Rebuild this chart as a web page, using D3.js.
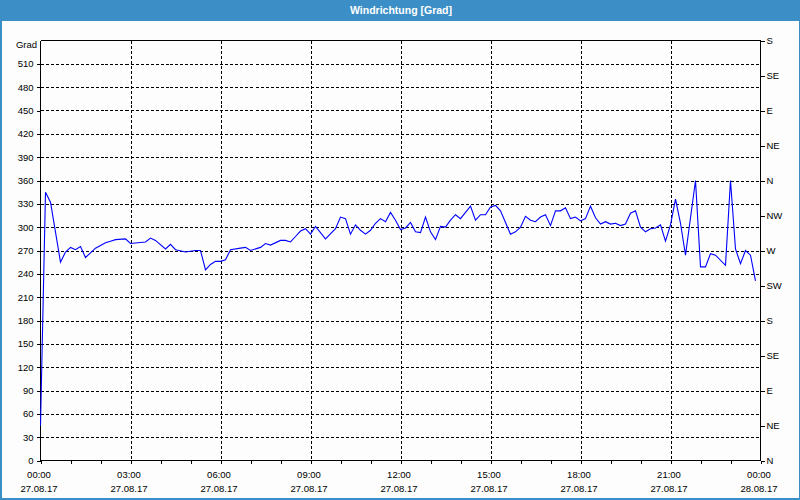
<!DOCTYPE html>
<html><head><meta charset="utf-8">
<script src="https://cdn.jsdelivr.net/npm/d3@7"></script>
<style>
html,body{margin:0;padding:0;background:#fcfdfc;}
svg{display:block;font-family:"Liberation Sans",Arial,sans-serif;}
</style></head>
<body>
<svg id="c" width="800" height="500"></svg>
<script>
const chartTitle = "Windrichtung [Grad]";
const yUnit = "Grad";
const times = ["00:00","00:10","00:20","00:40","00:50","01:00","01:10","01:20","01:30","01:50","02:10","02:20","02:30","02:50","03:00",
"03:30","03:40","03:50","04:10","04:20","04:30","04:50","05:10","05:20","05:30","05:40","05:50","06:00","06:10","06:20",
"06:40","06:50","07:00","07:20","07:30","07:40","08:00","08:10","08:20","08:30","08:40","08:50","09:00","09:10","09:30",
"09:50","10:00","10:10","10:20","10:30","10:40","10:50","11:00","11:10","11:20","11:30","11:40","11:50","12:00","12:10",
"12:20","12:30","12:40","12:50","13:00","13:10","13:20","13:30","13:40","13:50","14:00","14:20","14:30","14:40","14:50",
"15:00","15:10","15:20","15:40","15:50","16:00","16:10","16:20","16:30","16:40","16:50","17:00","17:10","17:20","17:30",
"17:40","17:50","18:00","18:10","18:20","18:30","18:40","18:50","19:00","19:10","19:20","19:30","19:40","19:50","20:00",
"20:10","20:20","20:30","20:40","20:50","21:00","21:10","21:20","21:30","21:50","22:00","22:10","22:20","22:30","22:50",
"23:00","23:10","23:20","23:30","23:40","23:50"];
const values = [45,345,332,255,268,274,271,275,261,273,280,282,284,285,279,
281,286,283,272,278,271,268,270,270,245,252,256,256,258,271,
273,274,270,274,279,277,283,283,281,288,295,298,291,301,285,
298,313,311,291,303,296,291,296,305,311,307,319,309,297,299,
306,294,293,313,294,284,301,300,309,316,311,327,309,316,316,
326,328,321,291,294,300,314,309,307,313,316,302,321,321,325,
311,313,308,311,327,312,304,307,304,305,302,304,318,321,300,
294,298,299,303,282,303,336,305,264,360,249,249,266,264,251,
360,272,253,270,264,231];
const yTicks = [0,30,60,90,120,150,180,210,240,270,300,330,360,390,420,450,480,510];
const dirTicks = [0,45,90,135,180,225,270,315,360,405,450,495,540];
const dirLabels = ["N","NE","E","SE","S","SW","W","NW","N","NE","E","SE","S"];
const xTickTimes = ["2017-08-27 00:00","2017-08-27 03:00","2017-08-27 06:00","2017-08-27 09:00","2017-08-27 12:00","2017-08-27 15:00","2017-08-27 18:00","2017-08-27 21:00","2017-08-28 00:00"];

const parse = d3.timeParse("%Y-%m-%d %H:%M");
const data = times.map((t,i)=>({t:parse("2017-08-27 "+t), v:values[i]}));
const t0 = parse(xTickTimes[0]), t1 = parse(xTickTimes[xTickTimes.length-1]);

const svg = d3.select("#c");
const W=800,H=500;
const L=40.5,R=760.5,T=40.5,B=460.5;
const x = d3.scaleTime().domain([t0,t1]).range([L,R]);
const y = d3.scaleLinear().domain([0,540]).range([B,T]);

// frame background and title bar
svg.append("rect").attr("x",0).attr("y",0).attr("width",W).attr("height",H).attr("fill","#3c8fc6");
svg.append("rect").attr("x",2).attr("y",21).attr("width",W-3).attr("height",H-23).attr("fill","#fcfdfc");
svg.append("text").attr("x",401).attr("y",14).attr("text-anchor","middle")
  .attr("fill","#ffffff").attr("font-weight","bold").attr("font-size","10.5px").text(chartTitle);

// grid
const g = svg.append("g");
g.selectAll(".hg").data(yTicks.filter(v=>v>0)).enter().append("line")
  .attr("x1",L).attr("x2",R).attr("y1",d=>Math.round(y(d))+0.5).attr("y2",d=>Math.round(y(d))+0.5)
  .attr("stroke","#000").attr("stroke-width",1).attr("stroke-dasharray","3,2").attr("shape-rendering","crispEdges");
const xt = xTickTimes.map(parse);
g.selectAll(".vg").data(xt.slice(1,-1)).enter().append("line")
  .attr("y1",T).attr("y2",B).attr("x1",d=>Math.round(x(d))+0.5).attr("x2",d=>Math.round(x(d))+0.5)
  .attr("stroke","#000").attr("stroke-width",1).attr("stroke-dasharray","3,2").attr("shape-rendering","crispEdges");

// top border
svg.append("line").attr("x1",L).attr("x2",R).attr("y1",T).attr("y2",T).attr("stroke","#000").attr("shape-rendering","crispEdges");

// left axis
const yAxis = d3.axisLeft(y).tickValues(yTicks).tickSize(4).tickFormat(d3.format("d"));
const ya = svg.append("g").attr("transform",`translate(${L},0)`).call(yAxis);
ya.select(".domain").attr("d",`M0,${T}V${B}`);
ya.selectAll("text").attr("font-size","9.5px").attr("fill","#000").attr("x",-7).attr("font-family","Liberation Sans, Arial, sans-serif");
ya.selectAll("line,path").attr("shape-rendering","crispEdges");
svg.append("text").attr("x",37).attr("y",y(540)+7).attr("text-anchor","end").attr("font-size","9.5px").attr("fill","#000").text(yUnit);

// right axis
const rAxis = d3.axisRight(y).tickValues(dirTicks).tickSize(4).tickFormat((d,i)=>dirLabels[i]);
const ra = svg.append("g").attr("transform",`translate(${R},0)`).call(rAxis);
ra.select(".domain").attr("d",`M0,${T}V${B}`);
ra.selectAll("text").attr("font-size","9.5px").attr("fill","#000").attr("x",6).attr("font-family","Liberation Sans, Arial, sans-serif");
ra.selectAll("line,path").attr("shape-rendering","crispEdges");

// bottom axis with hourly ticks
const xa = svg.append("g").attr("transform",`translate(0,${B})`)
  .call(d3.axisBottom(x).ticks(d3.timeHour.every(1)).tickSize(3).tickFormat(""));
xa.select(".domain").attr("d",`M${L},0H${R}`);
xa.selectAll("line,path").attr("shape-rendering","crispEdges");
const fTime = d3.timeFormat("%H:%M"), fDate = d3.timeFormat("%d.%m.%y");
const lab = svg.append("g").attr("font-size","9.5px").attr("fill","#000").attr("text-anchor","middle");
lab.selectAll(".t1").data(xt).enter().append("text").attr("x",d=>x(d)-1.5).attr("y",477.5).text(fTime);
lab.selectAll(".t2").data(xt).enter().append("text").attr("x",d=>x(d)-1.5).attr("y",492).text(fDate);

// line
const line = d3.line().x(d=>x(d.t)).y(d=>y(d.v));
svg.append("path").datum(data).attr("d",line).attr("fill","none").attr("stroke","#0000ff").attr("stroke-width",1.1);
</script>
</body></html>
